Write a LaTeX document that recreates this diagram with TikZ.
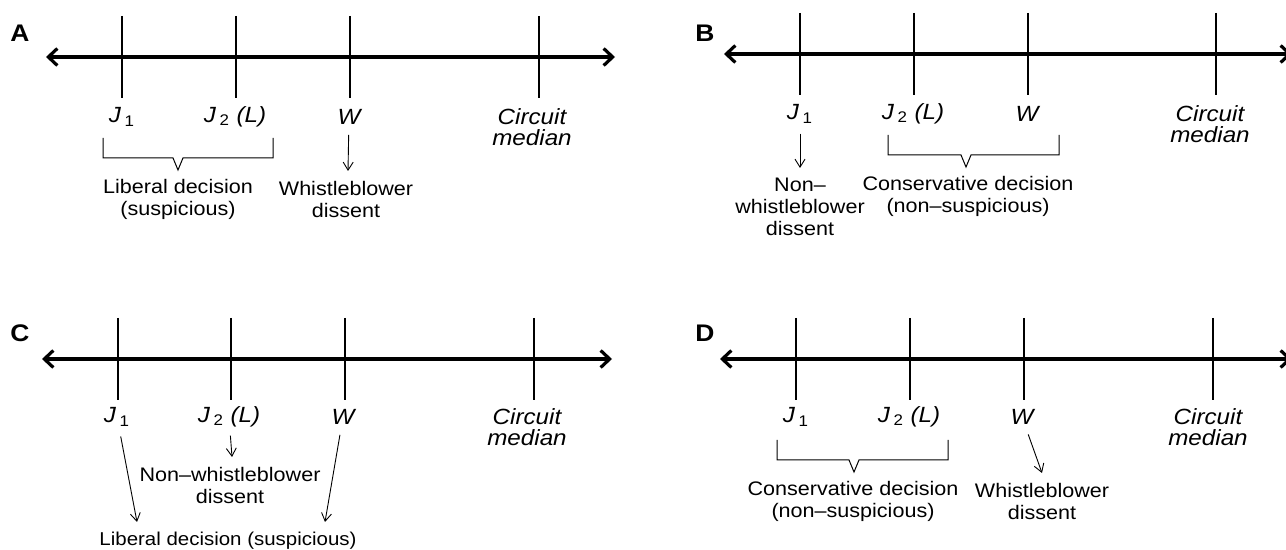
\documentclass[tikz,border=0pt]{standalone}
\usepackage{fontspec}
\setmainfont{Liberation Sans}[FakeStretch=1.1]
\usetikzlibrary{arrows.meta}

\newcommand{\jsub}[1]{J\,\textsubscript{\upshape #1}}

\tikzset{
    axisline/.style={line width=1.6pt, {Straight Barb[length=4.5pt,width=8.5pt]}-{Straight Barb[length=4.5pt,width=8.5pt]}},
    tickline/.style={line width=1pt},
    pointer/.style={line width=0.45pt, -{Straight Barb[length=4pt,width=5pt]}},
    brack/.style={line width=0.5pt},
    poslabel/.style={font=\itshape\fontsize{11}{10.5}\selectfont, inner sep=0pt, align=center},
    note/.style={font=\fontsize{9.8}{11}\selectfont, inner sep=0pt, align=center},
    panel/.style={font=\bfseries\fontsize{12}{12}\selectfont, inner sep=0pt}
}

\begin{document}
\begin{tikzpicture}[x=0.5pt,y=-0.5pt]
    \useasboundingbox (0,0) rectangle (1286,550);

    % panel A
    \node[panel] (pA) at (20,33) {A};
    \draw[axisline] (46,57) -- (615,57);
    \draw[tickline] (122,16) -- (122,98)
                    (236,16) -- (236,98)
                    (350,16) -- (350,98)
                    (539,16) -- (539,98);
    \node[poslabel] (j1A) at (122,117) {\jsub{1}};
    \node[poslabel] (j2A) at (235,117) {\jsub{2} (L)};
    \node[poslabel] (wA)  at (349,117) {W};
    \node[poslabel] (cmA) at (532,127) {Circuit\\median};
    \draw[brack] (103,138) |- (173,158) -- (178,170) -- (183,158) -| (273,138);
    \node[note] (libA) at (178,199) {Liberal decision\\(suspicious)};
    \node[note] (wbA)  at (346,199) {Whistleblower\\dissent};
    \coordinate (wAend) at (348,171);
    \draw[pointer, shorten <=5pt] (wA) -- (wAend);

    % panel B
    \node[panel] (pB) at (705,33) {B};
    \draw[axisline] (724,54) -- (1292,54);
    \draw[tickline] (800,13) -- (800,95)
                    (914,13) -- (914,95)
                    (1028,13) -- (1028,95)
                    (1216,13) -- (1216,95);
    \node[poslabel] (j1B) at (800,114) {\jsub{1}};
    \node[poslabel] (j2B) at (913,114) {\jsub{2} (L)};
    \node[poslabel] (wB)  at (1027,114) {W};
    \node[poslabel] (cmB) at (1210,124) {Circuit\\median};
    \node[note] (nwB) at (800,207) {Non–\\whistleblower\\dissent};
    \coordinate (j1Bend) at (800,168);
    \draw[pointer, shorten <=5pt] (j1B) -- (j1Bend);
    \draw[brack] (888,135) |- (961,155) -- (966,167) -- (971,155) -| (1059,135);
    \node[note] (conB) at (968,196) {Conservative decision\\(non–suspicious)};

    % panel C
    \node[panel] (pC) at (20,333) {C};
    \draw[axisline] (42,359) -- (612,359);
    \draw[tickline] (118,318) -- (118,400)
                    (231,318) -- (231,400)
                    (345,318) -- (345,400)
                    (534,318) -- (534,400);
    \node[poslabel] (j1C) at (117,417) {\jsub{1}};
    \node[poslabel] (j2C) at (229,417) {\jsub{2} (L)};
    \node[poslabel] (wC)  at (343,417) {W};
    \node[poslabel] (cmC) at (527,427) {Circuit\\median};
    \node[note] (nwC)  at (230,485) {Non–whistleblower\\dissent};
    \node[note, font=\fontsize{9.3}{11}\selectfont] (libC) at (228,541) {Liberal decision (suspicious)};
    \coordinate (j1Cend) at (137,522);
    \coordinate (j2Cend) at (232,457);
    \coordinate (wCend)  at (325,522);
    \draw[pointer, shorten <=5pt] (j1C) -- (j1Cend);
    \draw[pointer, shorten <=4pt] (j2C) -- (j2Cend);
    \draw[pointer, shorten <=5pt] (wC) -- (wCend);

    % panel D
    \node[panel] (pD) at (705,333) {D};
    \draw[axisline] (720,359) -- (1292,359);
    \draw[tickline] (796,318) -- (796,400)
                    (910,318) -- (910,400)
                    (1024,318) -- (1024,400)
                    (1213,318) -- (1213,400);
    \node[poslabel] (j1D) at (796,417) {\jsub{1}};
    \node[poslabel] (j2D) at (909,417) {\jsub{2} (L)};
    \node[poslabel] (wD)  at (1022,417) {W};
    \node[poslabel] (cmD) at (1208,427) {Circuit\\median};
    \draw[brack] (777,440) |- (849,460) -- (854,472) -- (859,460) -| (948,440);
    \node[note] (conD) at (853,501) {Conservative decision\\(non–suspicious)};
    \node[note] (wbD)  at (1042,501) {Whistleblower\\dissent};
    \coordinate (wDend) at (1042,473);
    \draw[pointer, shorten <=5pt] (wD) -- (wDend);
\end{tikzpicture}
\end{document}
